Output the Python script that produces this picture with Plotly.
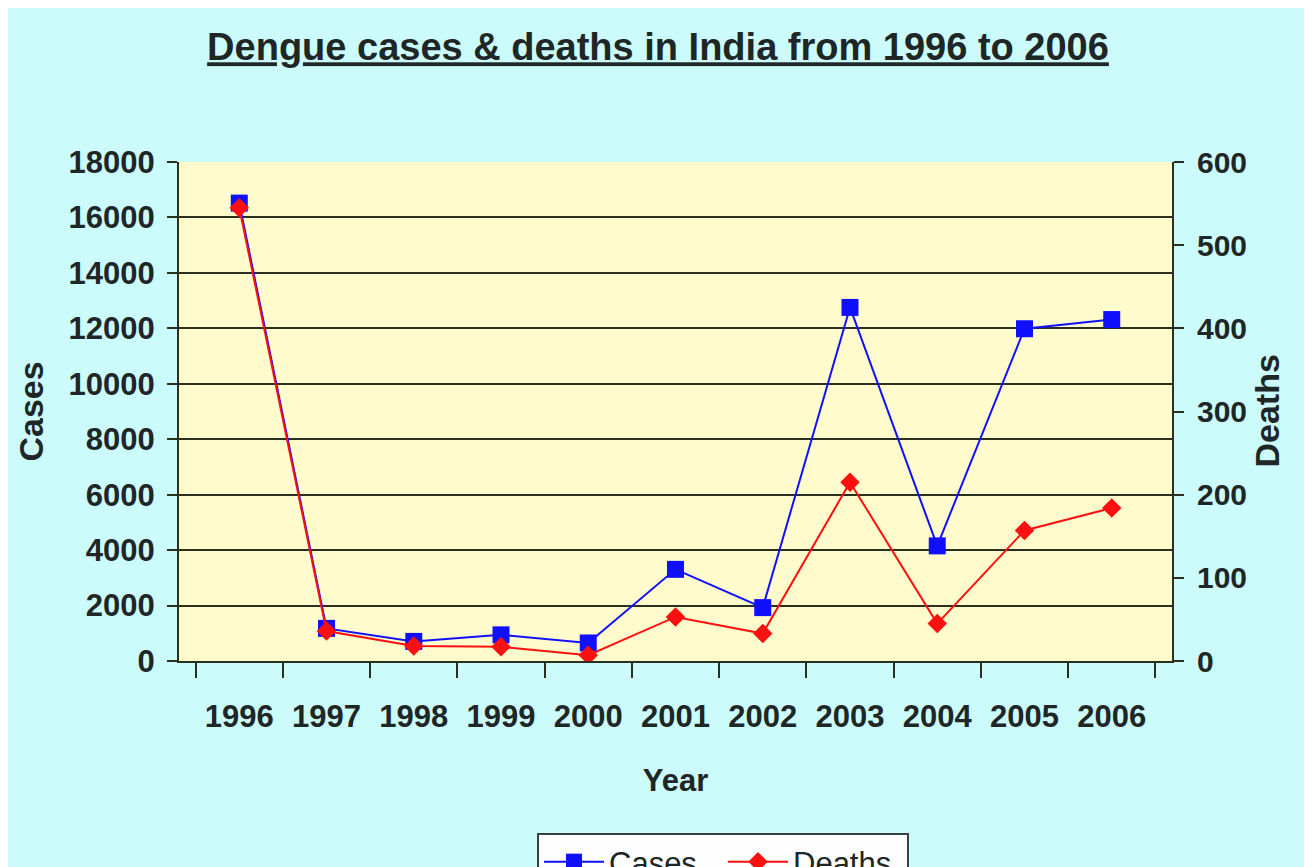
import plotly.graph_objects as go

years = ["1996", "1997", "1998", "1999", "2000", "2001", "2002", "2003", "2004", "2005", "2006"]
cases = [16517, 1177, 707, 944, 650, 3306, 1926, 12754, 4153, 11985, 12317]
deaths = [545, 36, 18, 17, 7, 53, 33, 215, 45, 157, 184]

FONT = "Liberation Sans, Arial, sans-serif"
TXT = "#1e2626"
AX = "#2a3020"

W, H = 1304, 859
PL, PR = 171, 1164  # plot area edges in figure px

fig = go.Figure()
fig.add_trace(go.Scatter(
    x=years, y=cases, name="Cases", mode="lines+markers",
    line=dict(color="#1010ff", width=2),
    marker=dict(symbol="square", size=17, color="#1010ff"),
    yaxis="y",
))
fig.add_trace(go.Scatter(
    x=years, y=deaths, name="Deaths", mode="lines+markers",
    line=dict(color="#ff1010", width=2),
    marker=dict(symbol="diamond", size=15, color="#ff1010"),
    yaxis="y2",
))

fig.update_layout(
    width=W, height=H,
    paper_bgcolor="#cbfbfb",
    plot_bgcolor="#fffbcc",
    margin=dict(l=PL, r=W - PR, t=154, b=206, autoexpand=False),
    font=dict(family=FONT, color=TXT, size=30, weight="bold"),
    title=dict(
        text="<u>Dengue cases & deaths in India from 1996 to 2006</u>",
        x=650 / W, xanchor="center", xref="container",
        y=1 - 39 / H, yanchor="middle", yref="container",
        font=dict(family=FONT, size=38, color=TXT, weight="bold"),
    ),
    xaxis=dict(
        type="category", tickson="boundaries",
        ticks="outside", ticklen=15, tickwidth=2, tickcolor=AX,
        showline=True, linecolor=AX, linewidth=2,
        showgrid=False, zeroline=False, tickangle=0,
        tickfont=dict(family=FONT, size=31, color=TXT, weight="bold"),
        ticklabelstandoff=27,
        title=dict(text="Year", font=dict(family=FONT, size=31, color=TXT, weight="bold"), standoff=36),
    ),
    yaxis=dict(
        range=[0, 18000], dtick=2000, tick0=0, tickformat="d",
        ticks="outside", ticklen=10, tickwidth=2, tickcolor=AX,
        showline=True, linecolor=AX, linewidth=2,
        showgrid=True, gridcolor=AX, gridwidth=2,
        zeroline=False,
        tickfont=dict(family=FONT, size=31, color=TXT, weight="bold"),
        ticklabelstandoff=6,
        title=dict(text="Cases", font=dict(family=FONT, size=34, color=TXT, weight="bold"), standoff=15),
    ),
    yaxis2=dict(
        range=[0, 600], dtick=100, tick0=0, tickformat="d",
        overlaying="y", side="right",
        ticks="outside", ticklen=10, tickwidth=2, tickcolor=AX,
        showline=True, linecolor=AX, linewidth=2,
        showgrid=False, zeroline=False,
        tickfont=dict(family=FONT, size=30, color=TXT, weight="bold"),
        ticklabelstandoff=7,
    ),
    annotations=[dict(
        text="Deaths", textangle=-90,
        xref="paper", x=1 + (1258 - PR) / (PR - PL), xanchor="center",
        yref="paper", y=0.5, yanchor="middle", showarrow=False,
        font=dict(family=FONT, size=34, color=TXT, weight="bold"),
    )],
    showlegend=True,
    legend=dict(
        orientation="h",
        x=529 / W, xanchor="left", xref="container",
        y=1 - 825 / H, yanchor="top", yref="container",
        bgcolor="#fdfdfd", bordercolor="#3a4040", borderwidth=2,
        itemwidth=60, entrywidth=109,
        font=dict(family=FONT, size=31, color=TXT, weight="normal"),
    ),
)

fig.write_html("out.html")
